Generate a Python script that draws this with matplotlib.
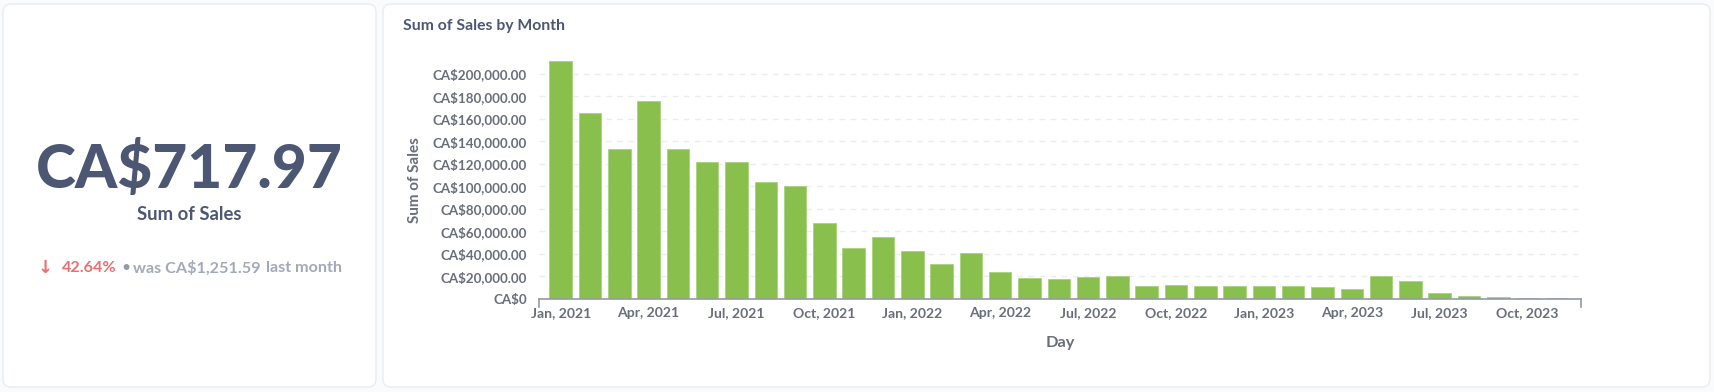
import matplotlib
matplotlib.use("Agg")
import matplotlib.pyplot as plt
from matplotlib.patches import FancyBboxPatch
from matplotlib.transforms import IdentityTransform
from matplotlib.lines import Line2D

# ---------------- data ----------------
months = ["Jan, 2021", "Feb, 2021", "Mar, 2021", "Apr, 2021", "May, 2021", "Jun, 2021",
          "Jul, 2021", "Aug, 2021", "Sep, 2021", "Oct, 2021", "Nov, 2021", "Dec, 2021",
          "Jan, 2022", "Feb, 2022", "Mar, 2022", "Apr, 2022", "May, 2022", "Jun, 2022",
          "Jul, 2022", "Aug, 2022", "Sep, 2022", "Oct, 2022", "Nov, 2022", "Dec, 2022",
          "Jan, 2023", "Feb, 2023", "Mar, 2023", "Apr, 2023", "May, 2023", "Jun, 2023",
          "Jul, 2023", "Aug, 2023", "Sep, 2023", "Oct, 2023", "Nov, 2023"]
sales = [211000, 165000, 133300, 176000, 133300, 122000,
         122000, 103700, 100700, 67900, 45600, 55400,
         42400, 31100, 40600, 24000, 19000, 17800,
         19800, 20700, 11600, 12700, 11600, 11600,
         11600, 11600, 10700, 8600, 20700, 15700,
         5300, 2400, 1500, 800, 717.97]
y_ticks = [0, 20000, 40000, 60000, 80000, 100000, 120000, 140000, 160000, 180000, 200000]
y_tick_labels = ["CA$0"] + ["CA${:,.2f}".format(v) for v in y_ticks[1:]]
x_tick_labels = months[::3]

scalar_value = "CA$717.97"
scalar_title = "Sum of Sales"
change_pct = "42.64%"
previous_text = "was CA$1,251.59"
period_text = "last month"

# ---------------- style ----------------
W, H = 1715, 392
DPI = 100
FONT = ["Lato", "DejaVu Sans"]
DARK = "#4C5773"
MED = "#696E7B"
LIGHT = "#949AAB"
RED = "#ED6E6E"
GREEN = "#88BF4D"

plt.rcParams["font.family"] = FONT

fig = plt.figure(figsize=(W / DPI, H / DPI), dpi=DPI)
fig.patch.set_facecolor("#F9FBFC")


def px(x, y):
    """pixel from top-left -> figure fraction"""
    return x / W, 1 - y / H


# cards
for (x0, y0, x1, y1) in [(3, 4, 376, 387), (383, 4, 1710, 387)]:
    card = FancyBboxPatch((x0, H - y1), x1 - x0, y1 - y0,
                          boxstyle="round,pad=0,rounding_size=8",
                          transform=IdentityTransform(),
                          facecolor="white", edgecolor="#E9ECF0", linewidth=1.0,
                          zorder=-10)
    fig.patches.append(card)

# ---------------- scalar card ----------------
fig.text(*px(189, 188), scalar_value, ha="center", va="baseline",
         fontsize=43.5, fontweight=900, color=DARK)
fig.text(*px(189, 220.5), scalar_title, ha="center", va="baseline",
         fontsize=13.3, fontweight="bold", color=DARK)
fig.text(*px(45, 272.5), "\u2193", ha="center", va="baseline", fontsize=13,
         fontweight="bold", color=RED, family=["DejaVu Sans"])
fig.text(*px(62, 272.5), change_pct, ha="left", va="baseline",
         fontsize=11.6, fontweight="bold", color=RED)
fig.text(*px(125.5, 272.5), "\u2022", ha="center", va="baseline",
         fontsize=11.5, color=LIGHT)
fig.text(*px(133, 272.5), previous_text, ha="left", va="baseline",
         fontsize=11.6, fontweight="bold", color="#A3A9B9")
fig.text(*px(266, 272.5), period_text, ha="left", va="baseline",
         fontsize=11.6, fontweight="bold", color="#A3A9B9")

# ---------------- chart card ----------------
fig.text(*px(403, 30), "Sum of Sales by Month", ha="left", va="baseline",
         fontsize=11.3, fontweight="bold", color=DARK)

ax_left, ax_right = 539, 1581
ax_bottom = 299
px_per_k = 1.1265
ymax = 211000
ax_top = ax_bottom - ymax / 1000 * px_per_k
ax = fig.add_axes([ax_left / W, 1 - ax_bottom / H,
                   (ax_right - ax_left) / W, (ax_bottom - ax_top) / H])
ax.set_facecolor("none")
ax.set_zorder(5)

x = list(range(len(months)))
ax.bar(x, sales, width=0.77, color=GREEN, edgecolor="#A9D27E", linewidth=0.6, zorder=3)

spacing = 29.3
ax.set_xlim(-(560.7 - ax_left) / spacing, (ax_right - 560.7) / spacing)
ax.set_ylim(0, ymax)

ax.set_yticks(y_ticks)
ax.set_yticklabels(y_tick_labels, fontweight="bold", fontsize=9.6, color=MED)
ax.set_xticks(x[::3])
ax.set_xticklabels(x_tick_labels, fontweight="bold", fontsize=10.1, color=MED)

for s in ["top", "right", "left"]:
    ax.spines[s].set_visible(False)
ax.spines["bottom"].set_color(LIGHT)
ax.spines["bottom"].set_linewidth(1.2)
ax.spines["bottom"].set_zorder(4)

ax.tick_params(axis="y", length=0, pad=8.6)
ax.tick_params(axis="x", length=0, pad=5.5)

for v in y_ticks[1:]:
    ax.axhline(v, color="#ECECEC", linewidth=1, linestyle=(0, (4, 4)), zorder=1)

# end ticks of x axis
for xe in (ax_left, ax_right):
    fig.add_artist(Line2D([xe / W, xe / W], [1 - 299 / H, 1 - 306.5 / H],
                          color=LIGHT, linewidth=1.2))

fig.text(*px(415, 180), "Sum of Sales", rotation=90, ha="center", va="center",
         fontsize=11, fontweight="bold", color=MED)
fig.text(*px(1060, 343), "Day", ha="center", va="center",
         fontsize=11.8, fontweight="bold", color=MED)

fig.savefig("out.png", dpi=DPI, facecolor=fig.get_facecolor())
